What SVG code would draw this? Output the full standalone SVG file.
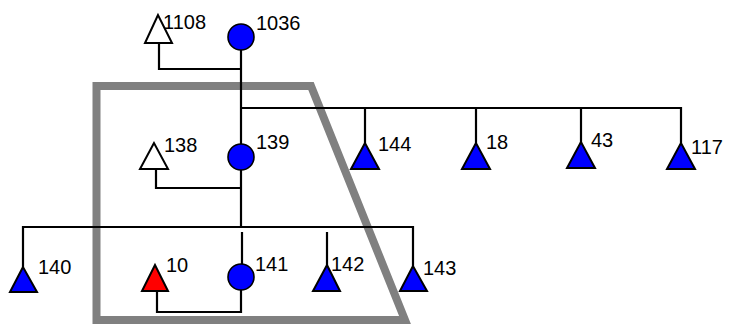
<svg xmlns="http://www.w3.org/2000/svg" width="729" height="327" viewBox="0 0 729 327">
<style>
.w{stroke:#000;stroke-width:2.2;fill:none}
.c{fill:#0000ff;stroke:#000;stroke-width:1.6}
.t{stroke:#000;stroke-width:2;stroke-linejoin:miter}
.lbl{font-family:"Liberation Sans",Arial,sans-serif;font-size:20px;fill:#000}
</style>
<rect width="729" height="327" fill="#fff"/>
<polygon points="96.5,86 311,86 405,320 96.5,320" fill="none" stroke="#808080" stroke-width="8"/>
<g id="connectors">
<polyline class="w" points="159,43 159,69 241,69"/>
<line class="w" x1="241" y1="50" x2="241" y2="144"/>
<polyline class="w" points="241,108 681,108 681,143"/>
<line class="w" x1="365" y1="108" x2="365" y2="143"/>
<line class="w" x1="476" y1="108" x2="476" y2="143"/>
<line class="w" x1="581" y1="108" x2="581" y2="143"/>
<polyline class="w" points="156,169 156,188 241,188"/>
<line class="w" x1="241" y1="170" x2="241" y2="227"/>
<polyline class="w" points="23,267 23,227 413,227 413,266"/>
<line class="w" x1="242" y1="232" x2="242" y2="265"/>
<line class="w" x1="327" y1="232" x2="327" y2="265"/>
<polyline class="w" points="157,291 157,312 241,312 241,289"/>
</g>
<g id="n1108"><polygon class="t" points="158,15 145,43 172,43" fill="#fff"/><text class="lbl" x="163" y="29">1108</text></g>
<g id="n1036"><circle class="c" cx="241" cy="37" r="13"/><text class="lbl" x="256" y="30">1036</text></g>
<g id="n138"><polygon class="t" points="154,143 140,169 168,169" fill="#fff"/><text class="lbl" x="164" y="152">138</text></g>
<g id="n139"><circle class="c" cx="241" cy="157" r="13"/><text class="lbl" x="256" y="149">139</text></g>
<g id="n144"><polygon class="t" points="365,143 351,169 379,169" fill="#0000ff"/><text class="lbl" x="378" y="151">144</text></g>
<g id="n18"><polygon class="t" points="476,143 462,169 490,169" fill="#0000ff"/><text class="lbl" x="486" y="149">18</text></g>
<g id="n43"><polygon class="t" points="581,142 567,168 595,168" fill="#0000ff"/><text class="lbl" x="591" y="147">43</text></g>
<g id="n117"><polygon class="t" points="681,143 667,169 695,169" fill="#0000ff"/><text class="lbl" x="691" y="154">117</text></g>
<g id="n140"><polygon class="t" points="23,267 10,292 37,292" fill="#0000ff"/><text class="lbl" x="38" y="274">140</text></g>
<g id="n10"><polygon class="t" points="155,265 142,291 168,291" fill="#ff0000"/><text class="lbl" x="166" y="272">10</text></g>
<g id="n141"><circle class="c" cx="241" cy="277" r="13"/><text class="lbl" x="255" y="271">141</text></g>
<g id="n142"><polygon class="t" points="327,265 313,291 340,291" fill="#0000ff"/><text class="lbl" x="331" y="271">142</text></g>
<g id="n143"><polygon class="t" points="413,266 400,291 427,291" fill="#0000ff"/><text class="lbl" x="423" y="275">143</text></g>
</svg>
